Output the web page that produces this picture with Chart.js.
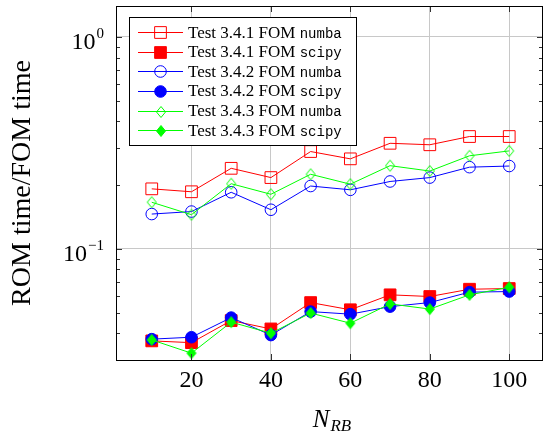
<!DOCTYPE html>
<html><head><meta charset="utf-8">
<script src="https://cdn.jsdelivr.net/npm/chart.js@4/dist/chart.umd.min.js"></script>
<style>html,body{margin:0;padding:0;background:#fff}#wrap{width:544px;height:434px;position:relative}</style>
</head><body><div id="wrap"><canvas id="c" width="544" height="434"></canvas></div>
<script>
// ---- data ----
const nRB = [10, 20, 30, 40, 50, 60, 70, 80, 90, 100];
const t341Numba = [0.192, 0.186, 0.240, 0.217, 0.288, 0.266, 0.315, 0.310, 0.339, 0.339];
const t341Scipy = [0.0368, 0.0361, 0.0459, 0.0419, 0.0558, 0.0516, 0.0607, 0.0596, 0.0645, 0.0650];
const t342Numba = [0.146, 0.150, 0.185, 0.153, 0.198, 0.190, 0.208, 0.217, 0.243, 0.246];
const t342Scipy = [0.0375, 0.0383, 0.0474, 0.0392, 0.0506, 0.0492, 0.0534, 0.0558, 0.0625, 0.0629];
const t343Numba = [0.166, 0.145, 0.203, 0.181, 0.225, 0.202, 0.247, 0.233, 0.275, 0.290];
const t343Scipy = [0.0372, 0.0322, 0.0451, 0.0400, 0.0498, 0.0446, 0.0550, 0.0520, 0.0607, 0.0659];
const seriesLabels = ['Test 3.4.1 FOM numba', 'Test 3.4.1 FOM scipy', 'Test 3.4.2 FOM numba',
                      'Test 3.4.2 FOM scipy', 'Test 3.4.3 FOM numba', 'Test 3.4.3 FOM scipy'];
const xTickValues = [20, 40, 60, 80, 100];
const yMajorValues = [0.1, 1];
const yTickLabels = [['10', '\u22121'], ['10', '0']];
const xTitle = ['N', 'RB'];
const yTitle = 'ROM time/FOM time';

// ---- styles ----
const RED = 'rgb(255,0,0)', BLUE = 'rgb(0,0,255)', GREEN = 'rgb(0,255,0)';
const SERIF = '"Liberation Serif", "DejaVu Serif", serif';
const MONO = '"Liberation Mono", "DejaVu Sans Mono", monospace';

function diamond(fill, stroke) {
  const c = document.createElement('canvas');
  c.width = 12; c.height = 14;
  const g = c.getContext('2d');
  g.beginPath();
  g.moveTo(6, 1.5); g.lineTo(10.5, 7); g.lineTo(6, 12.5); g.lineTo(1.5, 7); g.closePath();
  if (fill) { g.fillStyle = fill; g.fill(); }
  g.strokeStyle = stroke; g.lineWidth = 1; g.stroke();
  return c;
}
const dOpen = diamond(null, GREEN), dFill = diamond(GREEN, GREEN);

const seriesValues = [t341Numba, t341Scipy, t342Numba, t342Scipy, t343Numba, t343Scipy];
const seriesStyle = [
  {color: RED, ps: 'rect', r: 8.3, fill: 'rgba(0,0,0,0)'},
  {color: RED, ps: 'rect', r: 8.3, fill: RED},
  {color: BLUE, ps: 'circle', r: 5.8, fill: 'rgba(0,0,0,0)'},
  {color: BLUE, ps: 'circle', r: 5.8, fill: BLUE},
  {color: GREEN, ps: dOpen, r: 6, fill: 'rgba(0,0,0,0)'},
  {color: GREEN, ps: dFill, r: 6, fill: GREEN},
];

const datasets = seriesValues.map((vals, i) => {
  const s = seriesStyle[i];
  return {
    label: seriesLabels[i],
    data: nRB.map((x, j) => ({x: x, y: vals[j]})),
    borderColor: s.color,
    backgroundColor: s.fill,
    borderWidth: 1,
    pointStyle: s.ps,
    pointRadius: s.r,
    pointHoverRadius: s.r,
    pointBorderColor: s.color,
    pointBackgroundColor: s.fill,
    pointBorderWidth: 1,
    tension: 0,
    fill: false,
    order: 6 - i,
  };
});

const decor = {
  id: 'decor',
  afterDraw(chart) {
    const ctx = chart.ctx;
    const a = chart.chartArea;
    const xs = chart.scales.x, ys = chart.scales.y;
    ctx.save();
    // minor / major tick marks (inside)
    ctx.strokeStyle = '#333';
    ctx.lineWidth = 1;
    ctx.beginPath();
    for (let k = -2; k <= 0; k++) {
      for (let m = 1; m <= 9; m++) {
        const v = m * Math.pow(10, k);
        if (v < ys.min || v > ys.max) continue;
        const y = Math.round(ys.getPixelForValue(v)) + 0.5;
        const len = m === 1 ? 6 : 4;
        ctx.moveTo(a.left, y); ctx.lineTo(a.left + len, y);
        ctx.moveTo(a.right, y); ctx.lineTo(a.right - len, y);
      }
    }
    xTickValues.forEach(v => {
      const x = Math.round(xs.getPixelForValue(v)) + 0.5;
      ctx.moveTo(x, a.bottom); ctx.lineTo(x, a.bottom - 6);
      ctx.moveTo(x, a.top); ctx.lineTo(x, a.top + 6);
    });
    ctx.stroke();
    // frame
    ctx.strokeStyle = '#000';
    ctx.strokeRect(Math.round(a.left) + 0.5, Math.round(a.top) + 0.5,
                   Math.round(a.right - a.left) - 1, Math.round(a.bottom - a.top));
    // y tick labels with superscripts
    ctx.fillStyle = '#000';
    ctx.textBaseline = 'alphabetic';
    ctx.textAlign = 'left';
    yMajorValues.forEach((v, i) => {
      const y = ys.getPixelForValue(v);
      const [base, exp] = yTickLabels[i];
      ctx.font = '15px ' + SERIF;
      const we = ctx.measureText(exp).width;
      ctx.font = '24px ' + SERIF;
      const wb = ctx.measureText(base).width;
      const right = 104;
      ctx.fillText(base, right - we - 1 - wb, y + 12);
      ctx.font = '15px ' + SERIF;
      ctx.fillText(exp, right - we, y + 1);
    });
    // x title N_RB
    ctx.font = 'italic 25px ' + SERIF;
    const wN = ctx.measureText(xTitle[0]).width;
    ctx.font = 'italic 17px ' + SERIF;
    const wS = ctx.measureText(xTitle[1]).width;
    const cx = 332;
    const x0 = cx - (wN + wS + 1) / 2;
    ctx.font = 'italic 25px ' + SERIF;
    ctx.fillText(xTitle[0], x0, 427);
    ctx.font = 'italic 17px ' + SERIF;
    ctx.fillText(xTitle[1], x0 + wN + 1, 431);
    // legend
    const L = {x: 129, y: 17, w: 227, h: 128};
    ctx.fillStyle = '#fff';
    ctx.fillRect(L.x, L.y, L.w, L.h);
    ctx.strokeStyle = '#000';
    ctx.lineWidth = 1;
    ctx.strokeRect(L.x + 0.5, L.y + 0.5, L.w, L.h);
    chart.data.datasets.forEach((ds, i) => {
      const y = 32.3 + i * 19.55;
      ctx.strokeStyle = ds.borderColor;
      ctx.lineWidth = 1;
      ctx.beginPath();
      ctx.moveTo(138, Math.round(y) + 0.5); ctx.lineTo(183, Math.round(y) + 0.5);
      ctx.stroke();
      const mx = 160.5, my = Math.round(y) + 0.5;
      const ps = ds.pointStyle;
      if (ps instanceof HTMLCanvasElement) {
        ctx.drawImage(ps, Math.round(mx - ps.width / 2), Math.round(my - ps.height / 2));
      } else {
        ctx.beginPath();
        if (ps === 'rect') {
          const s = Math.SQRT1_2 * ds.pointRadius;
          ctx.rect(mx - s, my - s, 2 * s, 2 * s);
        } else {
          ctx.arc(mx, my, ds.pointRadius, 0, Math.PI * 2);
        }
        ctx.fillStyle = ds.pointBackgroundColor;
        ctx.fill();
        ctx.strokeStyle = ds.pointBorderColor;
        ctx.stroke();
      }
      const lab = ds.label;
      const cut = lab.lastIndexOf(' ');
      const pre = lab.slice(0, cut + 1), suf = lab.slice(cut + 1);
      ctx.fillStyle = '#000';
      ctx.textBaseline = 'alphabetic';
      ctx.font = '17px ' + SERIF;
      ctx.fillText(pre, 188, y + 5.5);
      const wp = ctx.measureText(pre).width;
      ctx.font = '14px ' + MONO;
      ctx.fillText(suf, 188 + wp, y + 5.5);
    });
    ctx.restore();
  }
};

new Chart(document.getElementById('c'), {
  type: 'line',
  data: {datasets: datasets},
  options: {
    responsive: false,
    devicePixelRatio: 1,
    animation: false,
    events: [],
    layout: {autoPadding: false, padding: {top: 6, right: 1, left: 0, bottom: 0}},
    plugins: {legend: {display: false}, tooltip: {enabled: false}},
    scales: {
      x: {
        type: 'linear',
        min: 1, max: 108.5,
        afterBuildTicks(s) { s.ticks = xTickValues.map(v => ({value: v})); },
        afterFit(s) { s.height = 74; s.paddingLeft = 0; s.paddingRight = 0; s.paddingTop = 0; s.paddingBottom = 0; },
        grid: {color: '#c8c8c8', lineWidth: 1, drawTicks: false},
        border: {display: false},
        ticks: {font: {family: SERIF, size: 24}, color: '#000', padding: 6, maxRotation: 0, autoSkip: false},
      },
      y: {
        type: 'logarithmic',
        min: 0.0299, max: 1.40,
        afterBuildTicks(s) { s.ticks = yMajorValues.map(v => ({value: v})); },
        afterFit(s) { s.width = 116; s.paddingLeft = 0; s.paddingRight = 0; s.paddingTop = 0; s.paddingBottom = 0; },
        grid: {color: '#c8c8c8', lineWidth: 1, drawTicks: false},
        border: {display: false},
        ticks: {display: false},
        title: {display: true, text: yTitle, font: {family: SERIF, size: 28}, color: '#000', padding: {top: 6, bottom: 0}},
      }
    }
  },
  plugins: [decor]
});
</script>
</body></html>
